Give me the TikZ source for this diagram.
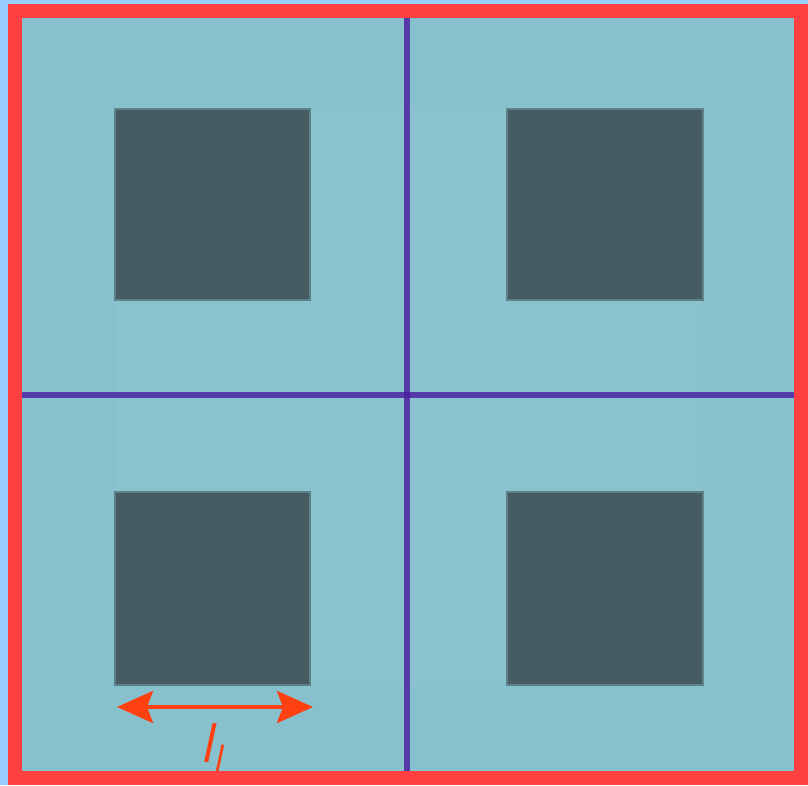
\documentclass[tikz,border=0pt]{standalone}
\usepackage{fontspec}
\usetikzlibrary{arrows.meta}
\definecolor{bgblue}{HTML}{99CCFF}
\definecolor{teal}{HTML}{87C1CD}
\definecolor{darksq}{HTML}{445C62}
\definecolor{sqedge}{HTML}{5E8087}
\definecolor{gridline}{HTML}{4A1EA0}
\definecolor{framered}{HTML}{FF4040}
\definecolor{arrowred}{HTML}{FF4010}
\tikzset{
  sq/.style={fill=darksq, draw=sqedge, line width=2pt},
  gridln/.style={draw=gridline, draw opacity=0.82, line width=6pt},
  dimarrow/.style={draw=arrowred, line width=4pt, {Stealth[length=36pt,width=32pt,inset=6pt]}-{Stealth[length=36pt,width=32pt,inset=6pt]}},
  frame/.style={draw=framered, line width=14pt}
}
\begin{document}
\begin{tikzpicture}[x=1pt,y=-1pt]
\useasboundingbox (0,0) rectangle (808,785);
\fill[bgblue] (0,0) rectangle (808,785);
\fill[teal] (15,11) rectangle (801,778);
% faint central region
\fill[white, opacity=0.03] (115,109) rectangle (703,685);
% squares
\draw[sq] (115,109) rectangle (310,300);
\draw[sq] (507,109) rectangle (703,300);
\draw[sq] (115,492) rectangle (310,685);
\draw[sq] (507,492) rectangle (703,685);
% grid lines
\coordinate (vt) at (407,18);
\coordinate (vb) at (407,771);
\coordinate (hl) at (22,395);
\coordinate (hr) at (794,395);
\draw[gridln] (vt) -- (vb);
\draw[gridln] (hl) -- (hr);
% dimension arrow
\coordinate (al) at (117,707);
\coordinate (ar) at (313,707);
\draw[dimarrow] (al) -- (ar);
\node[text=arrowred, inner sep=0pt, anchor=base] (lab) at (211,762)
  {\sffamily\slshape\fontsize{56}{56}\selectfont l\raisebox{-9pt}{\fontsize{38}{38}\selectfont l}};
% frame
\draw[frame] (15,11) rectangle (801,778);
\end{tikzpicture}
\end{document}
